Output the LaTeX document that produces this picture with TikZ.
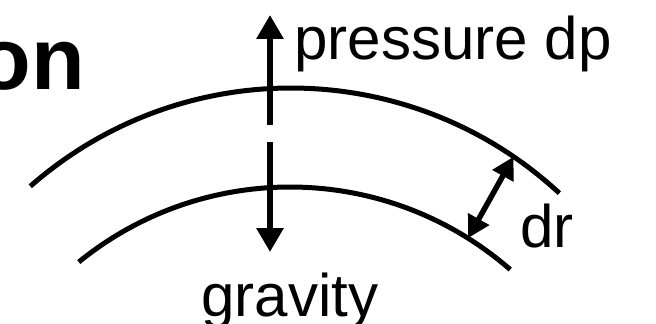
\documentclass[tikz,border=0pt]{standalone}
\usepackage{fontspec}
\setmainfont{Liberation Sans}
\usetikzlibrary{arrows.meta, positioning}

\begin{document}
\begin{tikzpicture}[
        x=0.02cm, y=0.02cm,
        shell/.style={line width=0.1cm},
        force/.style={line width=0.12cm, -{Triangle[length=0.48cm, width=0.52cm]}},
        thick/.style={line width=0.11cm, {Triangle[length=0.44cm, width=0.46cm]}-{Triangle[length=0.44cm, width=0.46cm]}},
        lbl/.style={inner sep=0pt, font=\fontsize{34.2}{40}\selectfont}
      ]
        \useasboundingbox (0,0) rectangle (656,324);
        % Title (cut off)
        \node[inner sep=0pt, anchor=base east, font=\fontsize{50}{56}\selectfont\bfseries] (title) at (85,234) {on};
        % Shell boundaries
        \coordinate (cu) at (291,-159);
        \coordinate (cl) at (290,-198);
        \draw[shell] ([shift={(131.3:395)}]cu) arc[start angle=131.3, end angle=47.2, radius=395];
        \draw[shell] ([shift={(129.1:335)}]cl) arc[start angle=129.1, end angle=48.9, radius=335];
        % Forces
        \coordinate (pbot) at (270,199);
        \coordinate (ptop) at (270,309);
        \coordinate (gtop) at (270,182);
        \coordinate (gbot) at (270,72);
        \draw[force] (pbot) -- (ptop);
        \draw[force] (gtop) -- (gbot);
        % Thickness
        \coordinate (dra) at ([shift={(55.7:395)}]cu);
        \coordinate (drb) at ([shift={(57.9:335)}]cl);
        \draw[thick] (drb) -- (dra);
        % Labels
        \node[lbl, anchor=base west] (pres) at (294,264) {pressure dp};
        \node[lbl, anchor=base west] (grav) at (201,7) {gravity};
        \node[lbl, anchor=base west] (dr) at (520,76) {dr};
      \end{tikzpicture}
\end{document}
